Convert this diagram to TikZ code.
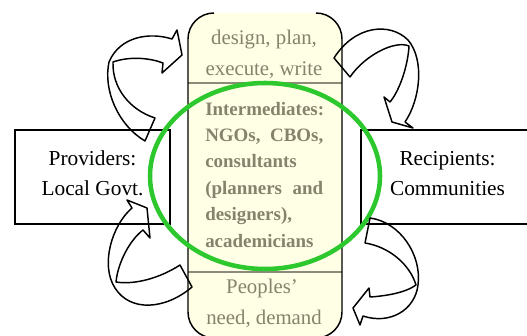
\documentclass[tikz,border=0pt]{standalone}
\usepackage{fontspec}
\setmainfont{Liberation Serif}
\usepackage{tikz}
\usetikzlibrary{shapes,arrows}

\definecolor{boxfill}{RGB}{255,255,230}
\definecolor{midtext}{RGB}{134,130,108}
\definecolor{sepline}{RGB}{140,138,120}
\definecolor{ringgreen}{RGB}{45,200,45}

\tikzset{
  sidebox/.style={draw, line width=1.1pt, inner sep=0pt},
  sidetext/.style={font=\fontsize{16}{22}\selectfont, inner sep=0.75pt, anchor=base},
  midplain/.style={font=\fontsize{15.6}{22}\selectfont, text=midtext, inner sep=0.75pt, anchor=base},
  midbold/.style={font=\fontsize{14.2}{20}\selectfont\bfseries, text=midtext, inner sep=0pt, anchor=base west},
  curvearrow/.style={line width=1.1pt, line join=round}
}

\begin{document}
\begin{tikzpicture}[x=0.75pt,y=0.75pt,yscale=-1,xscale=1]
    \useasboundingbox (0,0) rectangle (527,335);
    %Rounded Rect [id:middle] 
    \fill [boxfill, rounded corners=19.5pt] (188,13) rectangle (342,338) ;
    %Straight Lines [id:septop] 
    \draw [sepline, line width=1.5pt] (188,83) -- (342,83) ;
    %Straight Lines [id:sepbot] 
    \draw [sepline, line width=1.5pt] (188,272) -- (342,272) ;
    %Rounded Rect outline [id:middleline] 
    \draw [line width=1.1pt, rounded corners=19.5pt] (214,13) -- (188,13) -- (188,338) -- (342,338) -- (342,13) -- (316,13) ;
    %Shape: Rectangle [id:prov] 
    \node [sidebox, minimum width=116.25pt, minimum height=70.5pt] (prov) at (92.5,177) {};
    %Shape: Rectangle [id:recip] 
    \node [sidebox, minimum width=129.75pt, minimum height=70.5pt] (recip) at (447.5,177) {};
    % Text Node
    \node [sidetext] (provA) at (92.5,165) {Providers:};
    % Text Node
    \node [sidetext] (provB) at (92.5,195) {Local Govt.};
    % Text Node
    \node [sidetext] (recipA) at (447.5,165) {Recipients:};
    % Text Node
    \node [sidetext] (recipB) at (447.5,195) {Communities};
    % Text Node
    \node [midplain] (topA) at (264,45) {design, plan,};
    % Text Node
    \node [midplain] (topB) at (264,75) {execute, write};
    % Text Node
    \node [midplain] (botA) at (262,293) {Peoples’};
    % Text Node
    \node [midplain] (botB) at (264,324) {need, demand};
    % Text Node
    \node [midbold] (inter1) at (205,115) {Intermediates:};
    % Text Node
    \node [midbold] (inter2) at (205,141.4) {\makebox[88.5pt][s]{NGOs, CBOs,}};
    % Text Node
    \node [midbold] (inter3) at (205,167.8) {consultants};
    % Text Node
    \node [midbold] (inter4) at (205,194.2) {\makebox[88.5pt][s]{(planners and}};
    % Text Node
    \node [midbold] (inter5) at (205,220.6) {designers),};
    % Text Node
    \node [midbold] (inter6) at (205,247) {academicians};
    %Shape: Ellipse [id:ring] 
    \draw [ringgreen, line width=3.4pt] (265,176) ellipse [x radius=86.25pt, y radius=69.75pt] ;
    %Curved Arrow [id:arrowTL] 
    \draw [curvearrow] (145,141) -- (155,118) .. controls (130,110) and (112,88) .. (113,62) .. controls (130,56) and (150,58) .. (163,63) -- (162,73) -- (182,55) -- (177,30) -- (172,39) .. controls (150,32) and (120,36) .. (109,62) .. controls (103,90) and (118,125) .. (145,141) -- cycle ;
    %Curved Arrow [id:arrowTR] 
    \draw [curvearrow] (334,58) -- (350,77) .. controls (365,55) and (395,40) .. (409,46) .. controls (408,65) and (400,90) .. (390,102) -- (384,97) -- (392,122) -- (413,128) -- (405,122) .. controls (420,100) and (425,60) .. (408,40) .. controls (390,22) and (355,25) .. (334,58) -- cycle ;
    %Curved Arrow [id:arrowBR] 
    \draw [curvearrow] (370,218) -- (365,243) .. controls (390,247) and (410,265) .. (416,285) .. controls (405,293) and (385,296) .. (370,297) -- (369,288) -- (353,308) -- (360,325) -- (363,316) .. controls (390,325) and (415,310) .. (418,285) .. controls (422,255) and (400,222) .. (370,218) -- cycle ;
    %Curved Arrow [id:arrowBL] 
    \draw [curvearrow] (192,287) -- (180,265) .. controls (160,278) and (135,285) .. (116,282) .. controls (118,262) and (130,240) .. (143,230) -- (150,238) -- (147,208) -- (127,200) -- (132,208) .. controls (112,225) and (100,265) .. (115,288) .. controls (130,312) and (165,310) .. (192,287) -- cycle ;
\end{tikzpicture}
\end{document}
